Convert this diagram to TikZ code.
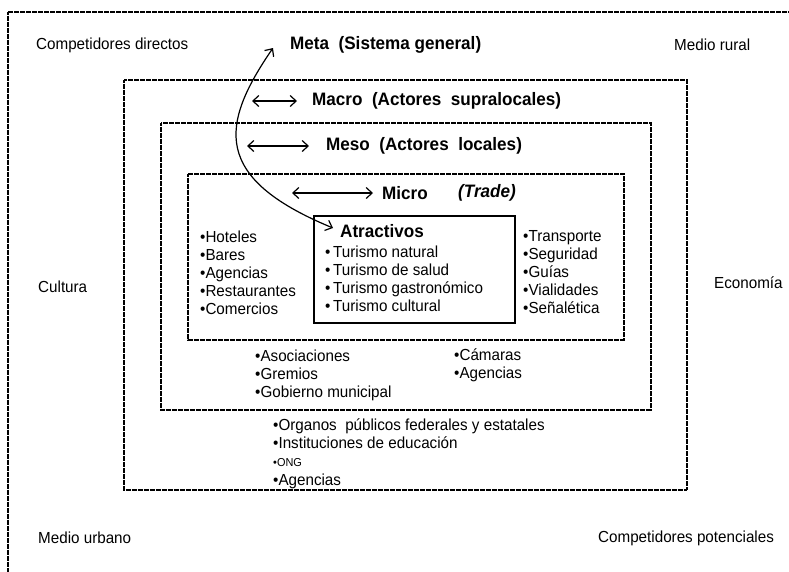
\documentclass[tikz,border=0pt]{standalone}
\usepackage{fontspec}
\setmainfont[FakeStretch=0.95]{Liberation Sans}
\usepackage{tikz}
\usetikzlibrary{arrows.meta}

\begin{document}
\begin{tikzpicture}[
    x=1pt, y=-1pt,
    zone/.style={draw, line width=1.3pt, dash pattern=on 0.9pt off 0.3pt},
    core/.style={draw, line width=1.4pt},
    label/.style={inner sep=0pt, anchor=west, font=\fontsize{16}{18}\selectfont},
    items/.style={label, align=left},
    level/.style={inner sep=0pt, anchor=west, font=\fontsize{18}{20}\selectfont\bfseries},
    link/.style={<->, >={Straight Barb[length=6pt,width=11pt]}, line width=1.2pt}
]
    \useasboundingbox (0,0) rectangle (789,571);
    \clip (0,0) rectangle (789,571);

    % Nested areas
    \draw[zone] (8,12) rectangle (800,590);
    \draw[zone] (124,80) rectangle (687,490);
    \draw[zone] (161,123) rectangle (651,410);
    \draw[zone] (188,174) rectangle (624,340);
    \draw[core] (314,216) rectangle (515,323);

    % Environment
    \node[label] (compdir) at (36,45) {Competidores directos};
    \node[label] (rural) at (674,45) {Medio rural};
    \node[label] (cultura) at (38,287) {Cultura};
    \node[label] (econ) at (714,283) {Economía};
    \node[label] (urbano) at (38,538) {Medio urbano};
    \node[label] (potenc) at (598,538) {Competidores potenciales};

    % Levels
    \node[level] (meta) at (290,45) {Meta\ \ (Sistema general)};
    \node[level] (macro) at (312,101) {Macro\ \ (Actores\ \ supralocales)};
    \node[level] (meso) at (326,146) {Meso\ \ (Actores\ \ locales)};
    \node[level] (micro) at (382,193) {Micro};
    \node[level] (trade) at (458,193) {\itshape(Trade)};
    \node[level] (atr) at (340,231) {Atractivos};

    % Actors
    \node[items] (atrlist) at (325,279) {•\,Turismo natural\\•\,Turismo de salud\\•\,Turismo gastronómico\\•\,Turismo cultural};
    \node[items] (hotel) at (200,273) {•Hoteles\\•Bares\\•Agencias\\•Restaurantes\\•Comercios};
    \node[items] (transp) at (523,272) {•Transporte\\•Seguridad\\•Guías\\•Vialidades\\•Señalética};
    \node[items] (asoc) at (255,375) {•Asociaciones\\•Gremios\\•Gobierno municipal};
    \node[items] (camaras) at (454,365.5) {•Cámaras\\•Agencias};
    \node[items] (organos) at (273,453.5) {•Organos\ \ públicos federales y estatales\\•Instituciones de educación\\{\fontsize{11.5}{18}\selectfont•ONG}\\[1pt]•Agencias};

    % Arrows
    \coordinate (macroL) at (252,101);
    \coordinate (macroR) at (297,101);
    \coordinate (mesoL) at (247,146);
    \coordinate (mesoR) at (309,146);
    \coordinate (microL) at (292,193);
    \coordinate (microR) at (373,193);
    \coordinate (metaend) at (273,48);
    \coordinate (atrend) at (333,228);
    \draw[link] (macroL) -- (macroR);
    \draw[link] (mesoL) -- (mesoR);
    \draw[link] (microL) -- (microR);
    \draw[link] (metaend) .. controls (220,125) and (212,178) .. (atrend);
\end{tikzpicture}
\end{document}
